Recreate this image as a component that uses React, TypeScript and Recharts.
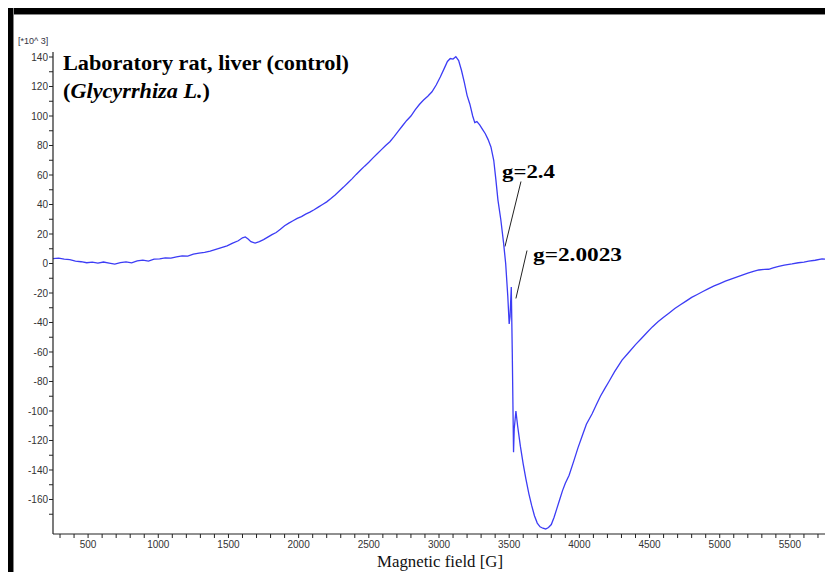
import React from 'react';
import { LineChart, Line, XAxis, YAxis, ReferenceLine } from 'recharts';

// magnetic field [G]
const fieldG = [
  250, 290, 330, 370, 410, 450, 490, 530, 570, 610, 650, 690, 730, 770, 810, 850, 890, 930, 970, 1010,
  1050, 1090, 1130, 1170, 1210, 1250, 1290, 1330, 1370, 1410, 1450, 1490, 1530, 1570, 1600, 1620, 1640, 1660, 1690, 1720,
  1750, 1780, 1810, 1840, 1870, 1900, 1930, 1960, 1990, 2020, 2050, 2080, 2110, 2140, 2170, 2200, 2230, 2260, 2290, 2320,
  2350, 2380, 2410, 2440, 2470, 2500, 2530, 2560, 2590, 2620, 2650, 2680, 2710, 2740, 2770, 2800, 2830, 2860, 2890, 2920,
  2950, 2980, 3010, 3040, 3060, 3080, 3100, 3120, 3140, 3160, 3180, 3200, 3220, 3240, 3255, 3270, 3290, 3310, 3330, 3350,
  3370, 3390, 3405, 3420, 3440, 3460, 3475, 3490, 3500, 3506, 3515, 3522, 3531, 3536, 3548, 3560, 3580, 3600, 3619, 3640,
  3660, 3680, 3700, 3720, 3740, 3760, 3780, 3800, 3820, 3840, 3860, 3880, 3900, 3927, 3960, 3990, 4020, 4050, 4090, 4120,
  4150, 4180, 4211, 4250, 4304, 4350, 4400, 4440, 4480, 4520, 4560, 4600, 4640, 4680, 4720, 4760, 4800, 4840, 4880, 4920,
  4960, 5000, 5040, 5080, 5120, 5160, 5200, 5240, 5278, 5320, 5349, 5380, 5420, 5460, 5515, 5560, 5600, 5634, 5680, 5729, 5750,
];

// EPR signal [*10^3]
const signal = [
  3.3, 3.6, 2.9, 2.6, 1.6, 1.2, 0.5, 0.9, 0.2, 1.0, 0.3, -0.4, 0.6, 1.1, 0.4, 1.8, 2.3, 1.6, 2.9, 3.1,
  3.8, 3.6, 4.5, 5.2, 5.0, 6.3, 7.1, 7.6, 8.4, 9.6, 10.8, 11.9, 13.8, 15.4, 17.4, 18.0, 16.6, 14.8, 13.9, 14.9,
  16.2, 17.9, 19.6, 21.0, 23.2, 25.6, 27.4, 29.0, 30.6, 31.8, 33.5, 34.8, 36.4, 38.2, 40.0, 41.8, 44.0, 46.4, 49.2, 51.8,
  54.6, 57.4, 60.4, 63.2, 66.0, 68.6, 71.6, 74.4, 77.2, 80.0, 82.6, 86.0, 89.8, 93.4, 97.0, 100.0, 104.2, 107.8, 110.8, 113.4,
  116.4, 121.0, 126.6, 132.8, 137.0, 139.0, 138.6, 140.2, 137.6, 131.0, 123.0, 114.0, 108.0, 100.0, 95.5, 96.2, 94.0, 91.0, 88.0, 84.0,
  79.0, 70.0, 57.0, 43.0, 30.0, 14.0, 0.0, -22.0, -41.0, -36.0, -16.0, -60.0, -128.0, -112.0, -100.0, -110.0, -124.0, -136.0, -146.0, -156.0,
  -164.0, -171.0, -176.0, -178.5, -179.5, -180.0, -179.0, -177.0, -172.0, -166.0, -160.0, -154.0, -149.0, -143.5, -134.0, -125.0, -117.0, -109.0, -102.0, -96.0,
  -90.0, -85.0, -80.0, -73.5, -65.5, -60.5, -55.0, -51.0, -47.0, -43.0, -39.5, -36.5, -33.5, -30.5, -28.0, -25.5, -23.0, -21.0, -19.0, -17.0,
  -15.2, -13.6, -12.0, -10.6, -9.2, -7.9, -6.6, -5.4, -4.4, -4.0, -3.9, -3.0, -2.0, -1.1, -0.3, 0.5, 1.0, 1.6, 2.2, 3.1, 3.0,
];

const xTicks = [
  300, 400, 500, 600, 700, 800, 900, 1000, 1100, 1200, 1300, 1400, 1500, 1600, 1700, 1800, 1900, 2000, 2100, 2200,
  2300, 2400, 2500, 2600, 2700, 2800, 2900, 3000, 3100, 3200, 3300, 3400, 3500, 3600, 3700, 3800, 3900, 4000, 4100, 4200,
  4300, 4400, 4500, 4600, 4700, 4800, 4900, 5000, 5100, 5200, 5300, 5400, 5500, 5600, 5700,
];
const xLabels = [500, 1000, 1500, 2000, 2500, 3000, 3500, 4000, 4500, 5000, 5500];

const yTicks = [
  -170, -160, -150, -140, -130, -120, -110, -100, -90, -80, -70, -60, -50, -40, -30, -20, -10,
  0, 10, 20, 30, 40, 50, 60, 70, 80, 90, 100, 110, 120, 130, 140,
];
const yLabels = [-160, -140, -120, -100, -80, -60, -40, -20, 0, 20, 40, 60, 80, 100, 120, 140];

// annotation leader lines, [G, signal] ends
const g24Line = [
  { x: 3584, y: 55.6 },
  { x: 3470, y: 11.5 },
];
const g20023Line = [
  { x: 3627, y: 8.8 },
  { x: 3548, y: -23.7 },
];

const data = fieldG.map((g, i) => ({ g, v: signal[i] }));

const tickFont = { fontFamily: 'Arial, "Liberation Sans", sans-serif', fontSize: 10, fill: '#333' };

const XTick = (props: any) => {
  const { x, y, payload } = props;
  if (!xLabels.includes(payload.value)) return null;
  return (
    <text x={x} y={y} dy="0.71em" textAnchor="middle" {...tickFont}>
      {payload.value}
    </text>
  );
};

const YTick = (props: any) => {
  const { x, y, payload } = props;
  if (!yLabels.includes(payload.value)) return null;
  return (
    <text x={x} y={y} dy="0.355em" textAnchor="end" {...tickFont}>
      {payload.value}
    </text>
  );
};

const serif = '"Times New Roman", "Liberation Serif", serif';

export default function App() {
  return (
    <div style={{ position: 'absolute', left: 8, top: 8, width: 817, height: 564, background: '#fff', overflow: 'visible' }}>
      <LineChart
        width={817}
        height={564}
        data={data}
        margin={{ top: 44, right: 0, bottom: 0, left: 0 }}
        style={{ overflow: 'visible' }}
      >
        <XAxis
          dataKey="g"
          type="number"
          domain={[250, 5750]}
          allowDataOverflow
          ticks={xTicks}
          interval={0}
          tick={<XTick />}
          tickSize={4}
          tickMargin={3}
          height={38}
          axisLine={{ stroke: '#222', strokeWidth: 1.2 }}
          tickLine={{ stroke: '#222' }}
        />
        <YAxis
          type="number"
          domain={[-183.4, 143.4]}
          allowDataOverflow
          ticks={yTicks}
          interval={0}
          tick={<YTick />}
          tickSize={4}
          tickMargin={1}
          width={45}
          axisLine={{ stroke: '#222', strokeWidth: 1.2 }}
          tickLine={{ stroke: '#222' }}
        />
        <ReferenceLine segment={g24Line} stroke="#222" strokeWidth={1} ifOverflow="visible" />
        <ReferenceLine segment={g20023Line} stroke="#222" strokeWidth={1} ifOverflow="visible" />
        <Line
          type="linear"
          dataKey="v"
          stroke="#3c3cf5"
          strokeWidth={1.3}
          dot={false}
          isAnimationActive={false}
        />
      </LineChart>
      <svg
        width={817}
        height={564}
        style={{ position: 'absolute', left: 0, top: 0, pointerEvents: 'none' }}
      >
        <text x={10} y={36} fontFamily='Arial, "Liberation Sans", sans-serif' fontSize={9} fill="#334">
          [*10^ 3]
        </text>
        <text x={55} y={62} fontFamily={serif} fontWeight="bold" fontSize={20} fill="#000" textLength={286} lengthAdjust="spacingAndGlyphs">
          Laboratory rat, liver (control)
        </text>
        <text x={55} y={90} fontFamily={serif} fontWeight="bold" fontSize={20} fill="#000" textLength={147} lengthAdjust="spacingAndGlyphs">
          (<tspan fontStyle="italic">Glycyrrhiza L.</tspan>)
        </text>
        <text x={494} y={170} fontFamily={serif} fontWeight="bold" fontSize={19} fill="#000" textLength={53} lengthAdjust="spacingAndGlyphs">
          g=2.4
        </text>
        <text x={525} y={253} fontFamily={serif} fontWeight="bold" fontSize={19} fill="#000" textLength={89} lengthAdjust="spacingAndGlyphs">
          g=2.0023
        </text>
        <text x={369} y={559} fontFamily={serif} fontSize={17} fill="#111" textLength={126} lengthAdjust="spacingAndGlyphs">
          Magnetic field [G]
        </text>
      </svg>
      <div style={{ position: 'absolute', left: 0, top: 0, width: 817, height: 6, background: '#000', borderBottom: '1px solid #888' }} />
      <div style={{ position: 'absolute', left: 0, top: 0, width: 5, height: 564, background: '#000', borderRight: '1px solid #888' }} />
    </div>
  );
}
